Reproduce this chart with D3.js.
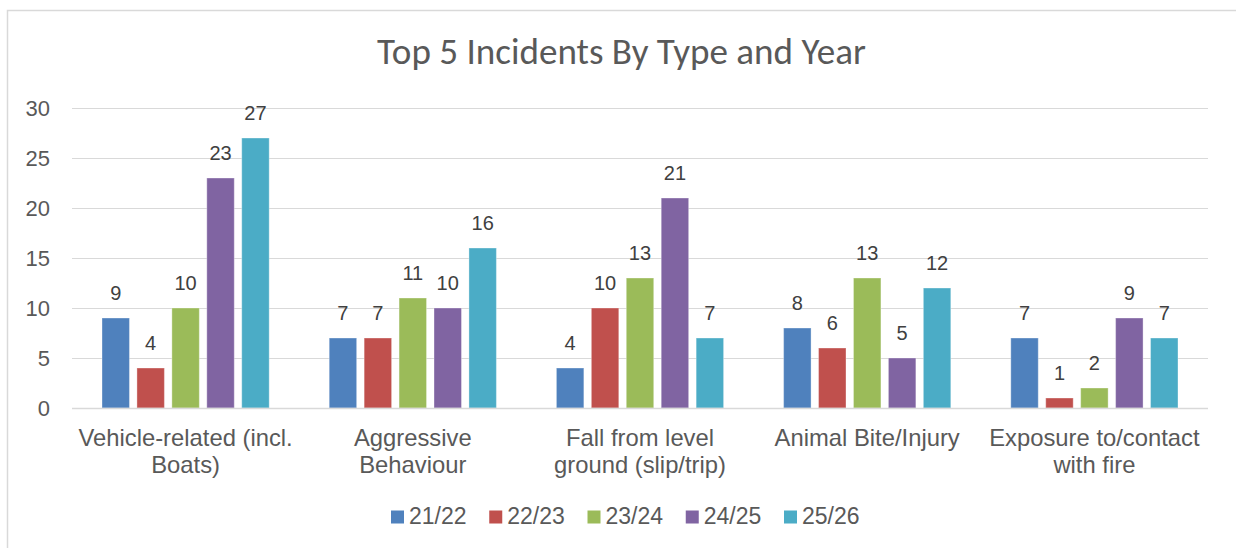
<!DOCTYPE html>
<html>
<head>
<meta charset="utf-8">
<script src="https://cdn.jsdelivr.net/npm/d3@7"></script>
<style>
  html, body { margin: 0; padding: 0; background: #fff; }
  svg { display: block; }
  .grid line { stroke: #d9d9d9; stroke-width: 1; }
  .tick-label { font-family: "Liberation Sans", Arial, sans-serif; font-size: 22px; fill: #595959; }
  .cat-label { font-family: "Liberation Sans", Arial, sans-serif; font-size: 23.8px; fill: #595959; }
  .data-label { font-family: "Liberation Sans", Arial, sans-serif; font-size: 20px; fill: #404040; }
  .legend-label { font-family: "Liberation Sans", Arial, sans-serif; font-size: 23px; fill: #595959; }
  .title { font-family: Carlito, Lato, "Open Sans", sans-serif; font-size: 31px; fill: #595959; }
</style>
</head>
<body>
<div id="chart"></div>
<script>
const categories = [
  ["Vehicle-related (incl.", "Boats)"],
  ["Aggressive", "Behaviour"],
  ["Fall from level", "ground (slip/trip)"],
  ["Animal Bite/Injury"],
  ["Exposure to/contact", "with fire"]
];
const seriesNames = ["21/22", "22/23", "23/24", "24/25", "25/26"];
const seriesColors = ["#4F81BD", "#C0504D", "#9BBB59", "#8064A2", "#4BACC6"];
const values = [
  [9, 7, 4, 8, 7],    // 21/22
  [4, 7, 10, 6, 1],   // 22/23
  [10, 11, 13, 13, 2],// 23/24
  [23, 10, 21, 5, 9], // 24/25
  [27, 16, 7, 12, 7]  // 25/26
];
const yTicks = [0, 5, 10, 15, 20, 25, 30];

const W = 1236, H = 548;
const plot = { left: 72, right: 1208, top: 108, bottom: 408 };

const svg = d3.select("#chart").append("svg")
  .attr("width", W).attr("height", H);

// chart frame (runs past the picture on the right and bottom)
svg.append("rect")
  .attr("x", 7.5).attr("y", 10.5)
  .attr("width", W + 20).attr("height", H + 20)
  .attr("fill", "#fff").attr("stroke", "#d9d9d9").attr("stroke-width", 1.5);

const title = svg.append("text").attr("class", "title")
  .attr("x", 621.5).attr("y", 64)
  .attr("text-anchor", "middle")
  .text("Top 5 Incidents By Type and Year");
// size the title so its width matches the reference (~489px)
const tw = title.node().getComputedTextLength();
title.style("font-size", (31 * 489 / tw) + "px");

const catIdx = categories.map((d, i) => i);
const x0 = d3.scaleBand().domain(catIdx).range([plot.left, plot.right]);
const inner = 30;
const x1 = d3.scaleBand().domain(seriesNames)
  .range([inner, x0.bandwidth() - inner]).paddingInner(0.214);
const y = d3.scaleLinear().domain([0, 30]).range([plot.bottom, plot.top]);

// gridlines
const grid = svg.append("g").attr("class", "grid");
grid.selectAll("line").data(yTicks).enter().append("line")
  .attr("x1", plot.left).attr("x2", plot.right)
  .attr("y1", d => Math.round(y(d)) + 0.5).attr("y2", d => Math.round(y(d)) + 0.5);

// y tick labels
svg.append("g").selectAll("text").data(yTicks).enter().append("text")
  .attr("class", "tick-label")
  .attr("x", 50).attr("y", d => y(d))
  .attr("dy", "0.35em").attr("text-anchor", "end")
  .text(d => d);

// bars
const groups = svg.append("g").selectAll("g").data(catIdx).enter().append("g")
  .attr("transform", d => `translate(${x0(d)},0)`);

seriesNames.forEach((s, si) => {
  groups.append("rect")
    .attr("x", c => x1(s))
    .attr("y", c => y(values[si][c]))
    .attr("width", x1.bandwidth())
    .attr("height", c => y(0) - y(values[si][c]))
    .attr("fill", seriesColors[si])
    .attr("stroke", "#fff").attr("stroke-opacity", 0.35).attr("stroke-width", 1);

  groups.append("text")
    .attr("class", "data-label")
    .attr("x", c => x1(s) + x1.bandwidth() / 2)
    .attr("y", c => y(values[si][c]) - 18)
    .attr("text-anchor", "middle")
    .text(c => values[si][c]);
});

// axis line on top of bars
svg.append("line")
  .attr("x1", plot.left).attr("x2", plot.right)
  .attr("y1", plot.bottom + 0.5).attr("y2", plot.bottom + 0.5)
  .attr("stroke", "#d9d9d9").attr("stroke-width", 1.5);

// category labels
const catG = svg.append("g").selectAll("text").data(catIdx).enter().append("text")
  .attr("class", "cat-label")
  .attr("text-anchor", "middle");
catG.each(function(d) {
  const t = d3.select(this);
  categories[d].forEach((line, li) => {
    t.append("tspan")
      .attr("x", x0(d) + x0.bandwidth() / 2)
      .attr("y", 446 + li * 27)
      .text(line);
  });
});

// legend
const leg = svg.append("g").selectAll("g").data(seriesNames).enter().append("g")
  .attr("transform", (d, i) => `translate(${391 + i * 98.25},517)`);
leg.append("rect").attr("x", 0).attr("y", -6.5).attr("width", 13).attr("height", 13)
  .attr("fill", (d, i) => seriesColors[i]);
leg.append("text").attr("class", "legend-label")
  .attr("x", 18).attr("y", 6.7)
  .text(d => d);
</script>
</body>
</html>
